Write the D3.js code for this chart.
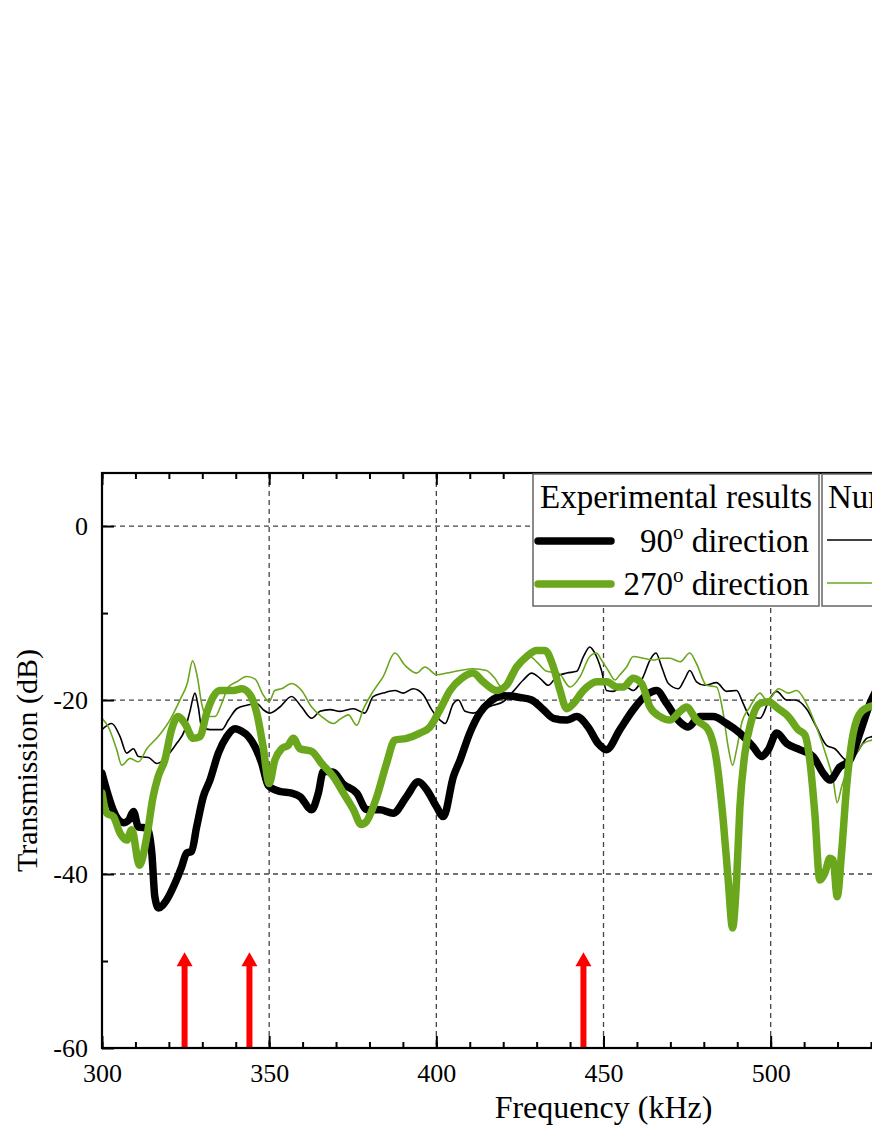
<!DOCTYPE html>
<html>
<head>
<meta charset="utf-8">
<script src="https://cdn.jsdelivr.net/npm/d3@7"></script>
<style>
  body { margin: 0; overflow: hidden; background: #fff; }
  svg { display: block; font-family: "Liberation Serif", serif; }
</style>
</head>
<body>
<svg class="chart"></svg>
<script>
const width = 872, height = 1128;
const green = "#6aa71d";

// experimental, 90 degree direction (thick black)
const exp90 = [[300,-28.4],[301.5,-30.5],[303.3,-32.6],[306.4,-34.1],[308,-33.8],[309.4,-32.8],[310.9,-34.6],[313.4,-34.7],[314.9,-37.6],[315.8,-42.6],[316.9,-43.9],[319.3,-43],[321.8,-41.1],[323.8,-39.2],[325.3,-37.6],[326.8,-37.4],[328.3,-34.6],[330.3,-31.1],[332.3,-29.2],[334.8,-26.1],[337.3,-24.2],[339.8,-23.3],[341.8,-23.6],[343.8,-24.2],[345.8,-25.4],[347.8,-27.3],[349.7,-29.8],[353.2,-30.5],[356.7,-30.7],[359.2,-31.1],[362.7,-32.6],[364.7,-30.7],[366.2,-28.2],[369.2,-28.3],[372,-29.6],[376.2,-30.7],[379.2,-32.6],[383.1,-32.6],[387.1,-33],[391.1,-31.1],[394.6,-29.4],[397.1,-30.3],[400.1,-32.3],[402.1,-33.4],[405.1,-28.8],[407.1,-26.9],[410,-23.8],[413,-21.5],[416,-20.2],[420,-19.5],[425,-19.7],[428.5,-20],[432,-21.1],[435,-22.1],[439,-22.3],[442,-21.9],[445.4,-23.1],[448.4,-25],[450.9,-25.7],[454.9,-23.4],[458.9,-21.1],[462.9,-19.4],[465.9,-18.9],[468.9,-20.4],[472.8,-22.5],[475.3,-23.1],[478.8,-21.9],[482.8,-21.9],[486.8,-22.7],[490.8,-23.8],[494.8,-25.4],[497.3,-26.5],[499.3,-25.7],[501.8,-23.8],[504.8,-25],[508.7,-25.7],[512.7,-26.5],[515.7,-28.4],[517.7,-29.2],[520.7,-27.7],[523.7,-26.9],[526.7,-23.8],[529.7,-20.4],[533,-18],[536,-17]];

// experimental, 270 degree direction (thick green)
const exp270 = [[300,-30.7],[301.4,-33],[303.4,-33.4],[305.4,-35.3],[307.4,-36.1],[308.9,-34.9],[311.2,-39],[313.4,-35.7],[315.3,-31.1],[316.8,-28.8],[318.8,-26.9],[320.8,-23.4],[322.8,-21.9],[324.8,-22.7],[327.3,-24.4],[329.3,-24.2],[331.3,-21.5],[333.3,-19.6],[335.3,-18.9],[339.3,-18.9],[341.8,-18.7],[344.3,-19.4],[346.3,-21.5],[348.2,-25.4],[350,-29.6],[351.7,-26.9],[353.7,-25.6],[355.7,-25.2],[357.2,-24.4],[359.2,-25.6],[362.7,-25.9],[365.7,-27.3],[369.2,-28.8],[372.2,-30.7],[375.2,-32.6],[377.5,-34.3],[379,-34],[382.2,-31.1],[385.1,-27.3],[387.6,-24.6],[391.1,-24.4],[395.1,-23.8],[398.1,-23.1],[401.1,-21.1],[404.1,-18.9],[407.6,-17.5],[411,-16.9],[414,-17.9],[418,-18.9],[421,-18.3],[424,-16.2],[427,-15],[430,-14.3],[432.5,-14.3],[435,-16.2],[437,-18.9],[439,-21],[441,-20.4],[444,-18.9],[448,-17.9],[451,-17.9],[454,-18.5],[455.9,-18.5],[458.9,-17.5],[461.4,-18.1],[463.9,-20.8],[466.9,-21.9],[469.9,-22.3],[472.9,-21.3],[474.8,-20.8],[477.8,-22.3],[481.3,-23.4],[483.8,-26.9],[485.8,-33.8],[487.3,-40.7],[488.6,-46.2],[489.8,-40.7],[490.8,-32.3],[492.3,-26.1],[494.3,-22.3],[496.8,-20.4],[499.3,-20.2],[502.3,-21],[505.3,-21.9],[508.2,-23.4],[510.2,-24],[511.7,-26.9],[513.2,-33],[514.7,-40.7],[516.2,-39.9],[517.7,-38.2],[518.7,-38.4],[519.9,-42.6],[521.2,-37.6],[522.7,-30],[524.7,-23.8],[527.2,-21.3],[530.2,-20.7],[533,-20.5]];

// numerical, 90 degree direction (thin black)
const num90 = [[300,-23.4],[302.9,-22.7],[305.4,-24.2],[307.4,-26.1],[309.4,-25.6],[310.9,-26.5],[313.9,-26.6],[316.4,-27.3],[319.3,-26.5],[322.3,-25],[324.8,-23.4],[326.3,-21.3],[327.8,-19.2],[328.8,-20.8],[329.8,-23.1],[332.3,-23.4],[335.8,-23.4],[337.8,-22.3],[340.3,-21],[343.3,-20.6],[346.3,-20.4],[348.2,-21.1],[350.2,-21.5],[353.2,-20.8],[356.7,-19.6],[359.7,-20.8],[362.7,-22.1],[365.2,-21.3],[368.2,-21.1],[371.2,-21.3],[375.2,-21],[378.6,-21.5],[381.1,-19.6],[384.1,-19.2],[387.6,-18.9],[390.1,-19.2],[393.1,-18.7],[396.1,-19.4],[398.6,-21.1],[401.1,-22.3],[402.6,-22.7],[405.1,-20.4],[406.6,-20],[408.6,-21.3],[411,-21.5],[414,-21],[417,-20.6],[420,-20.2],[423,-19],[426,-17.7],[428.5,-16.9],[431,-17.5],[433.5,-18.3],[436,-17.3],[439,-16.9],[442,-16.7],[444,-15],[445.9,-13.9],[447.4,-14.6],[449.4,-16.6],[450.9,-18.9],[452.9,-19],[455.9,-18.3],[458.9,-18.9],[461.9,-17.3],[463.9,-15.4],[465.7,-14.6],[467.4,-16.2],[469.4,-18.1],[472.4,-18.7],[474.4,-17.5],[475.8,-16.6],[477.8,-17.9],[480.3,-18.3],[483.8,-18],[486.8,-19],[489.8,-18.9],[491.8,-20.4],[493.8,-21.9],[496.8,-22.1],[499.8,-19.8],[501.8,-19],[504.8,-20],[507.2,-20],[510.7,-21],[513.7,-23.1],[516.7,-25.2],[519.2,-25.6],[522.7,-26.9],[525.7,-26.1],[528.7,-24.4],[530.3,-24.2],[533,-24]];

// numerical, 270 degree direction (thin green)
const num270 = [[300,-22.1],[301.9,-23.1],[304.4,-25.7],[305.9,-27.5],[308.4,-26.7],[310.9,-27.1],[313.4,-25.6],[316.8,-24.2],[320.3,-22.3],[323.3,-20],[325.5,-18.1],[327.1,-15.5],[328.5,-17.3],[329.8,-20.4],[331.3,-21.9],[333.8,-21.9],[335.8,-20.4],[337.8,-18.5],[340.3,-17.9],[343.3,-17.3],[345.8,-17.6],[348.2,-19.4],[350,-20.2],[351.7,-18.9],[353.7,-18.7],[356.7,-18.1],[359.7,-18.9],[362.7,-20.8],[365.7,-21.9],[369.2,-22.7],[371.2,-22.2],[373.7,-21.7],[376.2,-22.9],[378.1,-21.1],[381.1,-19],[384.1,-17.3],[387.6,-14.6],[390.6,-16],[394.1,-16.9],[396.6,-16.2],[400.1,-17.1],[403.1,-16.9],[407.1,-16.6],[411,-16.4],[415,-16.6],[417.5,-17.5],[419.5,-18.5],[422,-16.9],[425,-15.4],[428,-15],[430,-15.6],[433,-16.7],[436.5,-16.9],[440,-18.5],[443,-17.3],[445.9,-15],[447.9,-14.6],[449.4,-15.4],[451.4,-16.6],[453.4,-17.7],[454.9,-17.1],[456.9,-16.2],[458.9,-15],[461.9,-15.2],[464.9,-15.4],[467.4,-15.2],[469.9,-15.2],[472.9,-15.6],[475.8,-14.6],[477.8,-15.8],[480.8,-18.3],[483.8,-18.5],[485.8,-21.5],[487.3,-25.4],[488.6,-27.5],[489.8,-25.7],[491.3,-22.7],[493.8,-20.8],[496.8,-19.2],[498.8,-20],[500.3,-19.6],[502.3,-18.7],[505.3,-19.2],[507.8,-18.9],[510.7,-20.4],[513.7,-23.1],[516.7,-26.5],[518.7,-29.2],[519.9,-31.8],[521.2,-30],[523.2,-27.7],[525.7,-26.1],[527.7,-25],[530.3,-24.6],[533,-24.4]];

// red arrows marking predicted modes
const arrowFreqs = [324.7, 344.1, 444.0];
const arrowTop = -49;

const xTicks = [300, 350, 400, 450, 500, 550, 600];
const xLabels = [300, 350, 400, 450, 500];
const xMinor = d3.range(300, 601, 10);
const yTicks = [-60, -40, -20, 0];
const yMinor = [-50, -30, -10];
const xGrid = [350, 400, 450, 500, 550];
const yGrid = [-40, -20, 0];

const pLeft = 102, pRight = 1105, pTop = 473, pBottom = 1048;

const x = d3.scaleLinear().domain([300, 600]).range([pLeft, pRight]);
const y = d3.scaleLinear().domain([-60, 6.1]).range([pBottom, pTop]);

const svg = d3.select(".chart")
  .attr("width", width)
  .attr("height", height);

svg.append("defs").append("clipPath").attr("id", "plot")
  .append("rect")
  .attr("x", pLeft).attr("y", pTop)
  .attr("width", pRight - pLeft).attr("height", pBottom - pTop);

// grid
const grid = svg.append("g")
  .attr("stroke", "#444")
  .attr("stroke-width", 1.3)
  .attr("stroke-dasharray", "5,4");
grid.selectAll(".gx").data(xGrid).enter().append("line")
  .attr("x1", d => x(d)).attr("x2", d => x(d))
  .attr("y1", pTop).attr("y2", pBottom);
grid.selectAll(".gy").data(yGrid).enter().append("line")
  .attr("x1", pLeft).attr("x2", pRight)
  .attr("y1", d => y(d)).attr("y2", d => y(d));

// curves
const line = d3.line()
  .x(d => x(d[0]))
  .y(d => y(d[1]))
  .curve(d3.curveMonotoneX);

const curves = svg.append("g").attr("clip-path", "url(#plot)")
  .attr("fill", "none")
  .attr("stroke-linejoin", "round")
  .attr("stroke-linecap", "round");

curves.append("path").attr("d", line(num90))
  .attr("stroke", "#000").attr("stroke-width", 1.6);
curves.append("path").attr("d", line(num270))
  .attr("stroke", green).attr("stroke-width", 1.6);
curves.append("path").attr("d", line(exp90))
  .attr("stroke", "#000").attr("stroke-width", 7.5);
curves.append("path").attr("d", line(exp270))
  .attr("stroke", green).attr("stroke-width", 7.5);

// arrows
const arrows = svg.append("g").attr("fill", "#ff0000");
arrows.selectAll("rect").data(arrowFreqs).enter().append("rect")
  .attr("x", d => x(d) - 3)
  .attr("y", y(arrowTop) + 12)
  .attr("width", 6)
  .attr("height", y(-60) - y(arrowTop) - 12);
arrows.selectAll("path").data(arrowFreqs).enter().append("path")
  .attr("d", d => `M${x(d) - 8},${y(arrowTop) + 14}L${x(d)},${y(arrowTop)}L${x(d) + 8},${y(arrowTop) + 14}Z`);

// axes
const fmt = d => String(d);
function styleAxis(g) {
  g.select(".domain").remove();
  g.selectAll(".tick line").attr("stroke", "#000").attr("stroke-width", 2);
  g.selectAll("text").attr("font-family", "Liberation Serif").attr("font-size", 26).attr("fill", "#000");
}

svg.append("g").attr("transform", `translate(0,${pBottom})`)
  .call(d3.axisBottom(x).tickValues(xTicks).tickFormat("").tickSize(-12))
  .call(styleAxis);
svg.append("g").attr("transform", `translate(0,${pBottom})`)
  .call(d3.axisBottom(x).tickValues(xLabels).tickFormat(fmt).tickSize(0).tickPadding(16))
  .call(styleAxis);
svg.append("g").attr("transform", `translate(0,${pBottom})`)
  .call(d3.axisBottom(x).tickValues(xMinor).tickFormat("").tickSize(-6))
  .call(styleAxis);
svg.append("g").attr("transform", `translate(0,${pTop})`)
  .call(d3.axisTop(x).tickValues(xTicks).tickFormat("").tickSize(-12))
  .call(styleAxis);
svg.append("g").attr("transform", `translate(0,${pTop})`)
  .call(d3.axisTop(x).tickValues(xMinor).tickFormat("").tickSize(-6))
  .call(styleAxis);
svg.append("g").attr("transform", `translate(${pLeft},0)`)
  .call(d3.axisLeft(y).tickValues(yTicks).tickFormat(fmt).tickSize(-12).tickPadding(14))
  .call(styleAxis);
svg.append("g").attr("transform", `translate(${pLeft},0)`)
  .call(d3.axisLeft(y).tickValues(yMinor).tickFormat("").tickSize(-6))
  .call(styleAxis);

// frame
svg.append("rect")
  .attr("x", pLeft).attr("y", pTop)
  .attr("width", pRight - pLeft).attr("height", pBottom - pTop)
  .attr("fill", "none").attr("stroke", "#000").attr("stroke-width", 2.2);

// axis titles
svg.append("text")
  .attr("x", (pLeft + pRight) / 2).attr("y", 1118)
  .attr("text-anchor", "middle")
  .attr("font-size", 32)
  .text("Frequency (kHz)");
svg.append("text")
  .attr("transform", `translate(37,${(pTop + pBottom) / 2}) rotate(-90)`)
  .attr("text-anchor", "middle")
  .attr("font-size", 30)
  .text("Transmission (dB)");

// legends
const legend = svg.append("g").attr("font-size", 33);
legend.append("rect")
  .attr("x", 533).attr("y", 474).attr("width", 286).attr("height", 132)
  .attr("fill", "#fff").attr("stroke", "#666").attr("stroke-width", 1.5);
legend.append("rect")
  .attr("x", 822).attr("y", 474).attr("width", 300).attr("height", 132)
  .attr("fill", "#fff").attr("stroke", "#666").attr("stroke-width", 1.5);

legend.append("text").attr("x", 540).attr("y", 508).text("Experimental results");
legend.append("text").attr("x", 828).attr("y", 508).text("Numerical results");

const entries = [
  { label: "90", y: 541, color: "#000" },
  { label: "270", y: 584, color: green }
];
entries.forEach(e => {
  legend.append("line")
    .attr("x1", 538).attr("x2", 611).attr("y1", e.y).attr("y2", e.y)
    .attr("stroke", e.color).attr("stroke-width", 7.5).attr("stroke-linecap", "round");
  legend.append("line")
    .attr("x1", 827).attr("x2", 900).attr("y1", e.y - 1).attr("y2", e.y - 1)
    .attr("stroke", e.color).attr("stroke-width", 1.6);
  const t = legend.append("text")
    .attr("x", 809).attr("y", e.y + 11)
    .attr("text-anchor", "end");
  t.append("tspan").text(e.label);
  t.append("tspan").attr("font-size", 21).attr("dy", -13).text("o");
  t.append("tspan").attr("dy", 13).text(" direction");
});
</script>
</body>
</html>
